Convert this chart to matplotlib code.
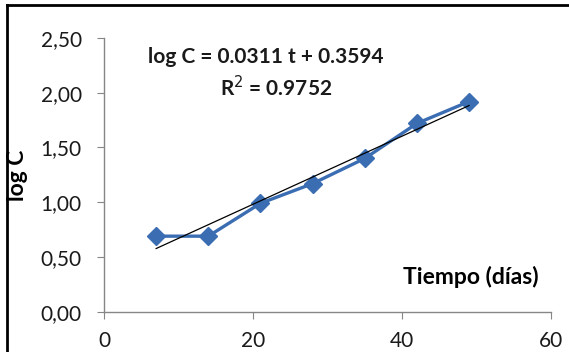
import matplotlib.pyplot as plt
import numpy as np
from matplotlib.lines import Line2D

# data
tiempo = [7, 14, 21, 28, 35, 42, 49]
log_c = [0.69, 0.69, 0.99, 1.17, 1.40, 1.72, 1.92]
slope = 0.0311
intercept = 0.3594
r2 = 0.9752
x_ticks = [0, 20, 40, 60]
y_ticks = [0.0, 0.5, 1.0, 1.5, 2.0, 2.5]

plt.rcParams["font.family"] = ["Lato", "DejaVu Sans"]

fig = plt.figure(figsize=(5.69, 3.52), dpi=100)
ax = fig.add_axes([0.1828, 0.1145, 0.7856, 0.7775])

ax.plot(tiempo, log_c, color="#3b6db3", lw=2.4, marker="D", ms=9.5,
        markeredgecolor="#3b6db3", zorder=3)
t_fit = np.array([min(tiempo), max(tiempo)])
ax.plot(t_fit, slope * t_fit + intercept, color="black", lw=0.9, zorder=4)

ax.set_xlim(0, 60)
ax.set_ylim(0, 2.5)
ax.set_xticks(x_ticks)
ax.set_yticks(y_ticks)
ax.set_yticklabels([f"{v:.2f}".replace(".", ",") for v in y_ticks])
ax.tick_params(axis="both", direction="out", length=5, color="#868686",
               labelsize=15, labelcolor="#1a1a1a")
ax.tick_params(axis="y", pad=11)
ax.tick_params(axis="x", pad=9)
for side in ("top", "right"):
    ax.spines[side].set_visible(False)
for side in ("left", "bottom"):
    ax.spines[side].set_color("#868686")
    ax.spines[side].set_linewidth(1.0)

ax.text(21.7, 2.33, f"log C = {slope} t + {intercept}", ha="center", va="center",
        fontsize=15, fontweight="bold", color="#1a1a1a")
ax.text(23.1, 2.045, f"R$^2$ = {r2}", ha="center", va="center",
        fontsize=15, fontweight="bold", color="#1a1a1a")
ax.text(49.3, 0.32, "Tiempo (días)", ha="center", va="center",
        fontsize=16.5, fontweight="bold", color="black")
fig.text(18 / 569, 1 - 175 / 352, "log C", rotation=90, ha="center", va="center",
         fontsize=16.5, fontweight="bold", color="black")

# chart border (only top and left edges visible in the crop)
fig.add_artist(Line2D([7 / 569, 1], [1 - 5 / 352, 1 - 5 / 352], color="black", lw=2))
fig.add_artist(Line2D([7 / 569, 7 / 569], [0, 1 - 5 / 352], color="black", lw=2))

fig.savefig("out.png", dpi=100)
